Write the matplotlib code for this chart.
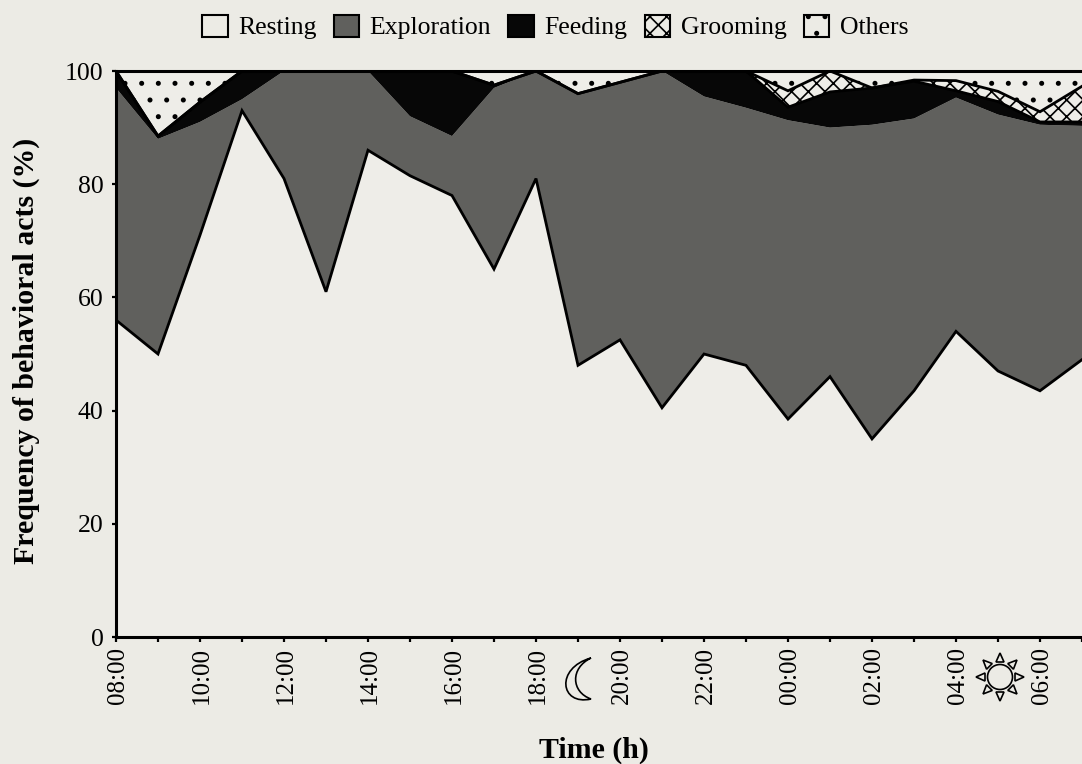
import matplotlib
matplotlib.use('Agg')
import matplotlib.pyplot as plt
from matplotlib.patches import Patch, Circle, Polygon, PathPatch
from matplotlib.path import Path
from matplotlib.transforms import ScaledTranslation
import numpy as np

plt.rcParams['font.family'] = ['Liberation Serif', 'DejaVu Serif']
plt.rcParams['hatch.linewidth'] = 1.2

# Hours since 08:00, every tick; only even hours get a label
jam = list(range(24))
label_jam = ['08:00', '', '10:00', '', '12:00', '', '14:00', '', '16:00', '', '18:00', '',
             '20:00', '', '22:00', '', '00:00', '', '02:00', '', '04:00', '', '06:00', '']

# Cumulative top of every behaviour (%)
resting = [56, 50, 71, 93, 81, 61, 86, 81.5, 78, 65, 81, 48,
           52.5, 40.5, 50, 48, 38.5, 46, 35, 43.5, 54, 47, 43.5, 49]
exploration = [97, 88, 91, 95, 100, 100, 100, 92, 88.5, 97, 100, 96,
               98, 100, 95.5, 93.5, 91.3, 90, 90.5, 91.6, 95.3, 92.3, 90.5, 90.3]
feeding = [100, 88.5, 94.5, 100, 100, 100, 100, 100, 100, 97.5, 100, 96,
           98, 100, 100, 100, 93.6, 96.3, 97, 98.2, 96.5, 94.6, 91, 91]
grooming = [100, 88.5, 94.5, 100, 100, 100, 100, 100, 100, 97.5, 100, 96,
            98, 100, 100, 100, 96.5, 100, 97, 98.4, 98.3, 96.4, 92.8, 97.3]
others = [100] * 24

warna_kertas = '#ecebe5'
warna_isi = '#eeede8'
warna_explor = '#60605d'
warna_feeding = '#070707'

fig = plt.figure(figsize=(10.82, 7.64), dpi=100, facecolor=warna_kertas)
ax = fig.add_axes([116 / 1082, 1 - 637 / 764, (1082 - 116) / 1082, (637 - 71) / 764])
ax.set_facecolor(warna_kertas)

x = np.array(jam)
nol = np.zeros(len(jam))
ax.fill_between(x, nol, resting, facecolor=warna_isi, linewidth=0)
ax.fill_between(x, resting, exploration, facecolor=warna_explor, linewidth=0)
ax.fill_between(x, exploration, feeding, facecolor=warna_feeding, linewidth=0)
ax.fill_between(x, feeding, grooming, facecolor=warna_isi, hatch='xx', edgecolor='black', linewidth=0)
ax.fill_between(x, grooming, others, facecolor=warna_isi, hatch='.', edgecolor='black', linewidth=0)
for garis in [resting, feeding, grooming]:
    ax.plot(x, garis, color='black', lw=2.0, solid_joinstyle='miter')

ax.set_xlim(0, (1082 - 116) / 42.14)
ax.set_ylim(0, 100)
ax.set_xticks(jam)
ax.set_xticklabels(label_jam, rotation=90, fontsize=18)
ax.set_yticks([0, 20, 40, 60, 80, 100])
ax.tick_params(axis='y', labelsize=18.5, length=3, width=1.6, pad=6)
ax.tick_params(axis='x', length=3.5, width=1.6, pad=4)
# tick_params resets the label transforms, so the small shift comes after it
geser = ScaledTranslation(2 / 100, 0, fig.dpi_scale_trans)
for t in ax.get_xticklabels():
    t.set_transform(t.get_transform() + geser)
ax.spines['right'].set_visible(False)
for s in ['left', 'top', 'bottom']:
    ax.spines[s].set_linewidth(2.2)

fig.text(594 / 1082, 1 - 750 / 764, 'Time (h)', fontsize=21.5, fontweight='bold', ha='center', va='center')
fig.text(26 / 1082, 1 - 351 / 764, 'Frequency of behavioral acts (%)', fontsize=21.5, fontweight='bold',
         rotation=90, ha='center', va='center')

handles = [
    Patch(facecolor=warna_kertas, edgecolor='black', linewidth=1.5, label='Resting'),
    Patch(facecolor=warna_explor, edgecolor='black', linewidth=1.5, label='Exploration'),
    Patch(facecolor=warna_feeding, edgecolor='black', linewidth=1.5, label='Feeding'),
    Patch(facecolor=warna_kertas, edgecolor='black', linewidth=1.5, hatch='xx', label='Grooming'),
    Patch(facecolor=warna_kertas, edgecolor='black', linewidth=1.5, hatch='.', label='Others'),
]
fig.legend(handles=handles, ncol=5, frameon=False, fontsize=18.5, loc='center',
           bbox_to_anchor=(555 / 1082, 1 - 27 / 764), handlelength=1.0, handleheight=0.95,
           handletextpad=0.4, columnspacing=0.67, borderpad=0)

# Moon and sun symbols under the axis, in pixel coordinates
over = fig.add_axes([0, 0, 1, 1], facecolor='none')
over.set_xlim(0, 1082)
over.set_ylim(764, 0)
over.axis('off')
moon = Path([(591, 658), (555, 668), (560, 706), (591, 699), (571, 692), (570, 668), (591, 658)],
            [Path.MOVETO, Path.CURVE4, Path.CURVE4, Path.CURVE4, Path.CURVE4, Path.CURVE4, Path.CURVE4])
over.add_patch(PathPatch(moon, facecolor='none', edgecolor='black', lw=1.2))
cx, cy = 1000, 677
over.add_patch(Circle((cx, cy), 12.5, facecolor='none', edgecolor='black', lw=1.2))
for sudut in np.deg2rad(np.arange(0, 360, 45)):
    arah = np.array([np.cos(sudut), np.sin(sudut)])
    tegak = np.array([-arah[1], arah[0]])
    pusat = np.array([cx, cy])
    over.add_patch(Polygon([pusat + arah * 15 + tegak * 4, pusat + arah * 15 - tegak * 4, pusat + arah * 24],
                           closed=True, facecolor='none', edgecolor='black', lw=1.2))

fig.savefig('out.png', dpi=100, facecolor=warna_kertas)
